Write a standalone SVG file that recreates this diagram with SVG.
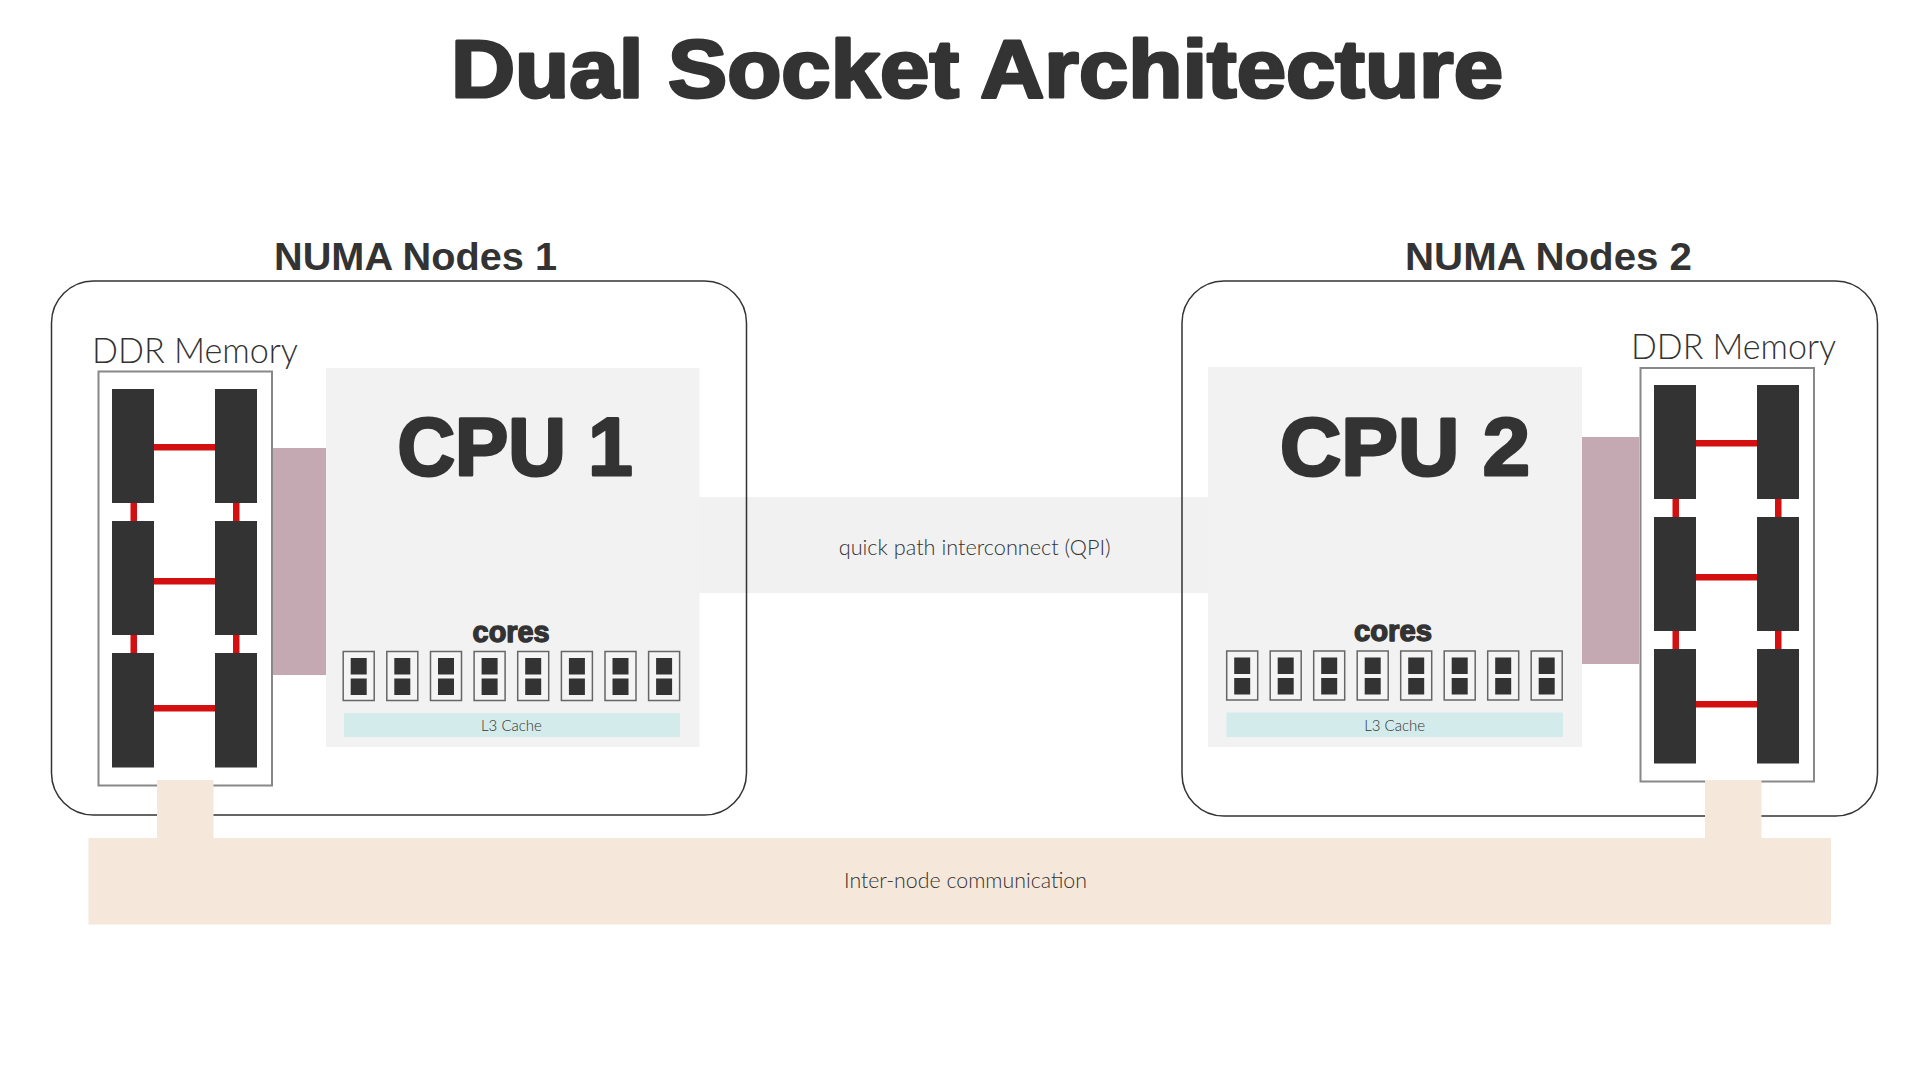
<svg xmlns="http://www.w3.org/2000/svg" xmlns:xlink="http://www.w3.org/1999/xlink" width="1920" height="1080" viewBox="0 0 1920 1080">
  <style>
    .heavy { font-family: "Liberation Sans", Arial, sans-serif; font-weight: 700; fill: #333333; stroke: #333333; stroke-linejoin: round; }
    .head { font-family: "Liberation Sans", Arial, sans-serif; font-weight: 700; fill: #333333; font-size: 39px; }
    .thin { font-family: "Lato", "Open Sans", "Liberation Sans", sans-serif; font-weight: 300; fill: #333333; }
    .nodebox { fill: none; stroke: #333333; stroke-width: 1.5; }
    .cpu { fill: #f2f2f2; }
    .ddr { fill: #ffffff; stroke: #888888; stroke-width: 2; }
    .stick { fill: #333333; }
    .red { fill: #d40f0f; }
    .pink { fill: #c4a8b2; }
    .beige { fill: #f5e7d9; }
    .qpi { fill: #f1f1f1; }
    .l3 { fill: #d4ebeb; }
  </style>
  <defs>
    <g id="core">
      <rect x="0" y="0" width="31" height="49" fill="#f4f4f4" stroke="#666666" stroke-width="1.5"/>
      <rect x="7.5" y="6.5" width="16" height="16.5" fill="#333333"/>
      <rect x="7.5" y="27" width="16" height="16.5" fill="#333333"/>
    </g>
    <g id="memory">
      <rect class="stick" x="0" y="0" width="42" height="114"/>
      <rect class="stick" x="103" y="0" width="42" height="114"/>
      <rect class="stick" x="0" y="132" width="42" height="114"/>
      <rect class="stick" x="103" y="132" width="42" height="114"/>
      <rect class="stick" x="0" y="264" width="42" height="114.5"/>
      <rect class="stick" x="103" y="264" width="42" height="114.5"/>
      <rect class="red" x="42" y="55" width="61" height="6.5"/>
      <rect class="red" x="42" y="189" width="61" height="6.5"/>
      <rect class="red" x="42" y="316" width="61" height="6.5"/>
      <rect class="red" x="18.5" y="114" width="6.5" height="18"/>
      <rect class="red" x="121" y="114" width="6.5" height="18"/>
      <rect class="red" x="18.5" y="246" width="6.5" height="18"/>
      <rect class="red" x="121" y="246" width="6.5" height="18"/>
    </g>
  </defs>

  <rect width="1920" height="1080" fill="#ffffff"/>

  <text id="title" class="heavy" x="977" y="97" font-size="82" stroke-width="3" text-anchor="middle" textLength="1052" lengthAdjust="spacingAndGlyphs">Dual Socket Architecture</text>

  <g id="connectors">
    <rect id="qpi-link" class="qpi" x="699" y="497" width="509" height="96"/>
    <text class="thin" x="838.7" y="555" font-size="22" fill="#444444" textLength="272" lengthAdjust="spacingAndGlyphs">quick path interconnect (QPI)</text>
    <rect id="mem-link-1" class="pink" x="272" y="448" width="57" height="227"/>
    <rect id="mem-link-2" class="pink" x="1582" y="437" width="57" height="227"/>
  </g>

  <g id="numa-node-1">
    <text class="head" x="274" y="269.5" textLength="283" lengthAdjust="spacingAndGlyphs">NUMA Nodes 1</text>
    <rect class="nodebox" x="51.5" y="281" width="695" height="534" rx="42" ry="42"/>
    <g id="ddr-memory-1">
      <text class="thin" x="92" y="363" font-size="36" textLength="206" lengthAdjust="spacingAndGlyphs">DDR Memory</text>
      <rect class="ddr" x="98.5" y="371.5" width="173.5" height="414"/>
      <use xlink:href="#memory" x="112" y="389"/>
    </g>
    <g id="cpu-1">
      <rect class="cpu" x="326" y="368" width="373.5" height="379"/>
      <text class="heavy" x="397.5" y="475" font-size="82" stroke-width="3" textLength="235" lengthAdjust="spacingAndGlyphs">CPU 1</text>
      <text class="heavy" x="472.6" y="642" font-size="29" stroke-width="1.4" textLength="77" lengthAdjust="spacingAndGlyphs">cores</text>
      <use xlink:href="#core" x="343.2" y="651.5"/>
      <use xlink:href="#core" x="386.8" y="651.5"/>
      <use xlink:href="#core" x="430.5" y="651.5"/>
      <use xlink:href="#core" x="474.1" y="651.5"/>
      <use xlink:href="#core" x="517.7" y="651.5"/>
      <use xlink:href="#core" x="561.4" y="651.5"/>
      <use xlink:href="#core" x="605.0" y="651.5"/>
      <use xlink:href="#core" x="648.6" y="651.5"/>
      <rect class="l3" x="344" y="713" width="336" height="24"/>
      <text class="thin" x="511.5" y="731" font-size="15" fill="#555555" text-anchor="middle">L3 Cache</text>
    </g>
  </g>

  <g id="numa-node-2">
    <text class="head" x="1405" y="269.5" textLength="287" lengthAdjust="spacingAndGlyphs">NUMA Nodes 2</text>
    <rect class="nodebox" x="1182" y="281" width="695.5" height="535" rx="42" ry="42"/>
    <g id="ddr-memory-2">
      <text class="thin" x="1631" y="359" font-size="36" textLength="205" lengthAdjust="spacingAndGlyphs">DDR Memory</text>
      <rect class="ddr" x="1640.5" y="368" width="173.5" height="413.5"/>
      <use xlink:href="#memory" x="1654" y="385"/>
    </g>
    <g id="cpu-2">
      <rect class="cpu" x="1208" y="367" width="374" height="380"/>
      <text class="heavy" x="1280" y="475" font-size="82" stroke-width="3" textLength="250" lengthAdjust="spacingAndGlyphs">CPU 2</text>
      <text class="heavy" x="1354" y="641" font-size="29" stroke-width="1.4" textLength="78" lengthAdjust="spacingAndGlyphs">cores</text>
      <use xlink:href="#core" x="1226.7" y="651"/>
      <use xlink:href="#core" x="1270.2" y="651"/>
      <use xlink:href="#core" x="1313.7" y="651"/>
      <use xlink:href="#core" x="1357.2" y="651"/>
      <use xlink:href="#core" x="1400.7" y="651"/>
      <use xlink:href="#core" x="1444.2" y="651"/>
      <use xlink:href="#core" x="1487.7" y="651"/>
      <use xlink:href="#core" x="1531.2" y="651"/>
      <rect class="l3" x="1226.5" y="712.5" width="336.5" height="24.5"/>
      <text class="thin" x="1394.6" y="730.5" font-size="15" fill="#555555" text-anchor="middle">L3 Cache</text>
    </g>
  </g>

  <g id="inter-node-links">
    <rect class="beige" x="157" y="780" width="56.5" height="60"/>
    <rect class="beige" x="1705" y="780" width="56.5" height="60"/>
  </g>

  <g id="inter-node-bus">
    <rect class="beige" x="88.5" y="838" width="1742.5" height="86.5"/>
    <text class="thin" x="844" y="888" font-size="22" fill="#444444" textLength="243" lengthAdjust="spacingAndGlyphs">Inter-node communication</text>
  </g>
</svg>
